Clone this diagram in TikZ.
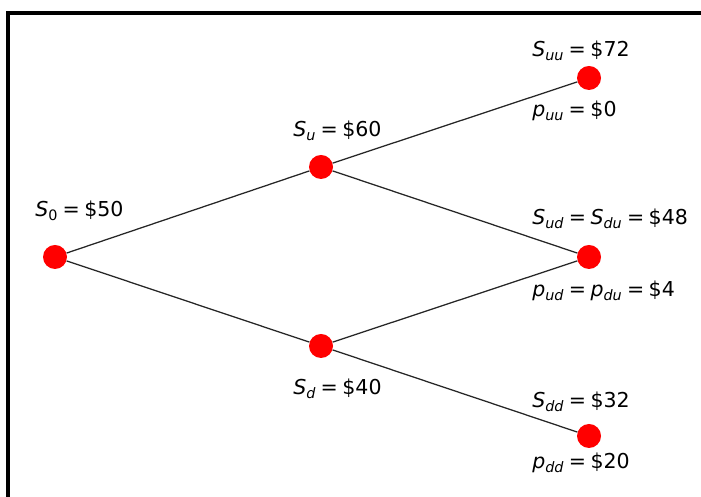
\documentclass[tikz,border=0pt]{standalone}
\usepackage{fontspec}
\setmainfont{DejaVu Sans}
\definecolor{beni}{HTML}{FF0000}
\definecolor{sumi}{HTML}{262626}
\newcommand\sym[2]{\textit{#1}\textsubscript{#2}}
\newcommand\eqs{\hspace{0.22em}=\hspace{0.22em}}

\begin{document}
\begin{tikzpicture}[font=\fontsize{14.6pt}{17pt}\selectfont,
    dot/.style={circle, fill=beni, inner sep=0pt, minimum size=0.6cm},
    edge/.style={sumi, line width=0.9pt},
    lbl/.style={anchor=base west, inner sep=0pt}]
    % \draw[step=1cm,gray,ultra thin] (0, 0) grid (17.5, 12.4);
    \useasboundingbox (0, 0) rectangle (17.525, 12.425);
    \draw[line width=2.2pt] (0.2, 0) -- (0.2, 12.1) -- (17.525, 12.1);

    \node[dot] (s0) at (1.375, 6) {};
    \node[dot] (su) at (8.025, 8.25) {};
    \node[dot] (sd) at (8.025, 3.775) {};
    \node[dot] (suu) at (14.725, 10.475) {};
    \node[dot] (sud) at (14.725, 6) {};
    \node[dot] (sdd) at (14.725, 1.525) {};

    \draw[edge] (s0) -- (su);
    \draw[edge] (s0) -- (sd);
    \draw[edge] (su) -- (suu);
    \draw[edge] (su) -- (sud);
    \draw[edge] (sd) -- (sud);
    \draw[edge] (sd) -- (sdd);

    \node[lbl] (ls0) at (0.875, 7) {\sym{S}{0}\eqs\$50};
    \node[lbl] (lsu) at (7.325, 9) {\sym{S}{\textit{u}}\eqs\$60};
    \node[lbl] (lsd) at (7.325, 2.55) {\sym{S}{\textit{d}}\eqs\$40};
    \node[lbl] (lsuu) at (13.3, 11) {\sym{S}{\textit{uu}}\eqs\$72};
    \node[lbl] (lpuu) at (13.3, 9.5) {\sym{p}{\textit{uu}}\eqs\$0};
    \node[lbl] (lsud) at (13.3, 6.8) {\sym{S}{\textit{ud}}\eqs\sym{S}{\textit{du}}\eqs\$48};
    \node[lbl] (lpud) at (13.3, 5) {\sym{p}{\textit{ud}}\eqs\sym{p}{\textit{du}}\eqs\$4};
    \node[lbl] (lsdd) at (13.3, 2.225) {\sym{S}{\textit{dd}}\eqs\$32};
    \node[lbl] (lpdd) at (13.3, 0.7) {\sym{p}{\textit{dd}}\eqs\$20};

\end{tikzpicture}
\end{document}
